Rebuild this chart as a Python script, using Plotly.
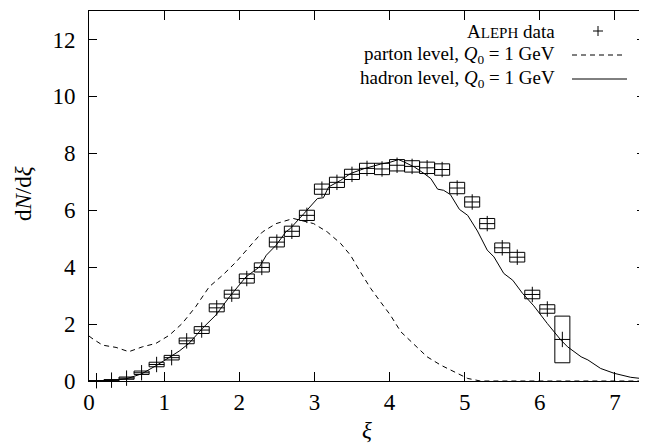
import plotly.graph_objects as go

# ALEPH data points
xi_data = [0.1, 0.3, 0.5, 0.7, 0.9, 1.1, 1.3, 1.5, 1.7, 1.9, 2.1, 2.3, 2.5, 2.7, 2.9, 3.1,
           3.3, 3.5, 3.7, 3.9, 4.1, 4.3, 4.5, 4.7, 4.9, 5.1, 5.3, 5.5, 5.7, 5.9, 6.1, 6.3]
y_data = [0.01, 0.03, 0.10, 0.29, 0.58, 0.82, 1.41, 1.79, 2.57, 3.05, 3.60, 3.99, 4.88, 5.26, 5.82, 6.74,
          6.98, 7.26, 7.47, 7.45, 7.58, 7.54, 7.49, 7.43, 6.78, 6.29, 5.53, 4.68, 4.35, 3.04, 2.53, 1.46]
sys_err = [0.01, 0.02, 0.04, 0.06, 0.08, 0.08, 0.10, 0.12, 0.14, 0.14, 0.16, 0.16, 0.17, 0.18, 0.18, 0.18,
           0.18, 0.18, 0.18, 0.20, 0.20, 0.20, 0.20, 0.20, 0.20, 0.18, 0.18, 0.17, 0.17, 0.15, 0.15, 0.82]
bin_half = 0.1

# hadron level curve
xi_had = [0.0, 0.3, 0.5, 0.7, 0.9, 1.0, 1.1, 1.2, 1.33, 1.51, 1.69, 1.87, 2.09, 2.27, 2.36, 2.49, 2.62,
          2.68, 2.86, 3.04, 3.12, 3.19, 3.35, 3.48, 3.66, 3.88, 4.0, 4.12, 4.19, 4.33, 4.46, 4.55, 4.64,
          4.72, 4.81, 4.93, 5.04, 5.17, 5.30, 5.39, 5.52, 5.64, 5.77, 5.92, 6.10, 6.28, 6.37, 6.55, 6.64,
          6.81, 6.99, 7.21, 7.44]
y_had = [0.0, 0.02, 0.08, 0.25, 0.55, 0.72, 0.88, 1.05, 1.32, 1.85, 2.32, 2.96, 3.66, 4.01, 4.42, 4.77, 5.24,
         5.36, 5.88, 6.41, 6.44, 6.82, 7.05, 7.29, 7.46, 7.62, 7.68, 7.78, 7.70, 7.52, 7.29, 7.11, 6.74,
         6.70, 6.55, 6.03, 5.82, 5.27, 4.60, 4.36, 3.78, 3.54, 3.08, 2.64, 2.02, 1.44, 1.20, 0.85, 0.74,
         0.44, 0.27, 0.13, 0.06]

# parton level curve
xi_par = [0.0, 0.04, 0.18, 0.36, 0.53, 0.71, 0.89, 1.07, 1.24, 1.42, 1.60, 1.78, 1.96, 2.13, 2.31, 2.49,
          2.72, 2.99, 3.17, 3.35, 3.48, 3.61, 3.75, 3.88, 4.01, 4.15, 4.32, 4.50, 4.68, 4.86, 5.04, 5.21, 7.4]
y_par = [1.58, 1.50, 1.26, 1.18, 1.03, 1.20, 1.32, 1.61, 2.02, 2.61, 3.31, 3.72, 4.19, 4.71, 5.24, 5.53,
         5.71, 5.53, 5.24, 4.83, 4.42, 3.84, 3.25, 2.78, 2.32, 1.73, 1.32, 0.85, 0.56, 0.33, 0.09, 0.0, 0.0]

x_ticks = [0, 1, 2, 3, 4, 5, 6, 7]
y_ticks = [0, 2, 4, 6, 8, 10, 12]

FONT = "Liberation Serif"

# boxes built from data arrays
bx, by = [], []
for x, y, e in zip(xi_data, y_data, sys_err):
    bx += [x - bin_half, x + bin_half, x + bin_half, x - bin_half, x - bin_half, None]
    by += [y - e, y - e, y + e, y + e, y - e, None]

fig = go.Figure()
fig.add_trace(go.Scatter(x=xi_par, y=y_par, mode="lines",
                         line=dict(color="black", width=1, dash="5px,4px"), showlegend=False))
fig.add_trace(go.Scatter(x=xi_had, y=y_had, mode="lines",
                         line=dict(color="black", width=1), showlegend=False))
fig.add_trace(go.Scatter(x=bx, y=by, mode="lines",
                         line=dict(color="black", width=1), showlegend=False))
fig.add_trace(go.Scatter(x=xi_data, y=y_data, mode="markers",
                         marker=dict(symbol="cross-thin-open", size=11, color="black",
                                     line=dict(color="black", width=1)),
                         showlegend=False, cliponaxis=False))

# pixel helpers (screen coordinates of the plot area) for legend placement
L = 89
W = 556
H = 370
B = 381
def px(x):
    return (x - L) / W
def py(y):
    return (B - y) / H

rows = [31, 55, 79]
labels = ["A<span style='font-size:15px'>LEPH</span> data",
          "parton level, <i>Q</i><sub>0</sub> = 1 GeV",
          "hadron level, <i>Q</i><sub>0</sub> = 1 GeV"]
for r, t in zip(rows, labels):
    fig.add_annotation(x=px(557), y=py(r), xref="paper", yref="paper", text=t,
                       showarrow=False, xanchor="right", yanchor="middle",
                       font=dict(family=FONT, size=19, color="black"))
# legend samples
fig.add_shape(type="line", xref="paper", yref="paper", x0=px(593), x1=px(603), y0=py(rows[0]), y1=py(rows[0]),
              line=dict(color="black", width=1))
fig.add_shape(type="line", xref="paper", yref="paper", x0=px(598), x1=px(598), y0=py(rows[0] - 5), y1=py(rows[0] + 5),
              line=dict(color="black", width=1))
fig.add_shape(type="line", xref="paper", yref="paper", x0=px(572), x1=px(624), y0=py(rows[1]), y1=py(rows[1]),
              line=dict(color="black", width=1, dash="5px,4px"))
fig.add_shape(type="line", xref="paper", yref="paper", x0=px(572), x1=px(627), y0=py(rows[2]), y1=py(rows[2]),
              line=dict(color="black", width=1))

# axis titles
fig.add_annotation(x=px(367), y=py(430), xref="paper", yref="paper", text="<i>ξ</i>",
                   showarrow=False, xanchor="center", yanchor="middle",
                   font=dict(family=FONT, size=23, color="black"))
fig.add_annotation(x=px(23), y=py(194), xref="paper", yref="paper", text="d<i>N</i>/d<i>ξ</i>",
                   showarrow=False, xanchor="center", yanchor="middle", textangle=-90,
                   font=dict(family=FONT, size=23, color="black"))

# page body has an 8px margin: figure is sized so the visible window matches
fig.update_layout(
    width=639, height=436,
    margin=dict(l=81, r=2, t=3, b=63, autoexpand=False),
    plot_bgcolor="white", paper_bgcolor="white",
    font=dict(family=FONT, size=23, color="black"),
    showlegend=False,
)
fig.update_xaxes(range=[0, 7.4], tickvals=x_ticks, ticktext=[str(v) for v in x_ticks],
                 ticks="inside", ticklen=9, tickwidth=1, tickcolor="black",
                 showline=True, linecolor="black", linewidth=1, mirror="ticks",
                 showgrid=False, zeroline=False, ticklabelstandoff=0, automargin=False)
fig.update_yaxes(range=[0, 13], tickvals=y_ticks, ticktext=[str(v) for v in y_ticks],
                 ticks="inside", ticklen=8, tickwidth=1, tickcolor="black",
                 showline=True, linecolor="black", linewidth=1, mirror="ticks",
                 showgrid=False, zeroline=False, ticklabelstandoff=8, automargin=False)

fig.write_html("out.html")
